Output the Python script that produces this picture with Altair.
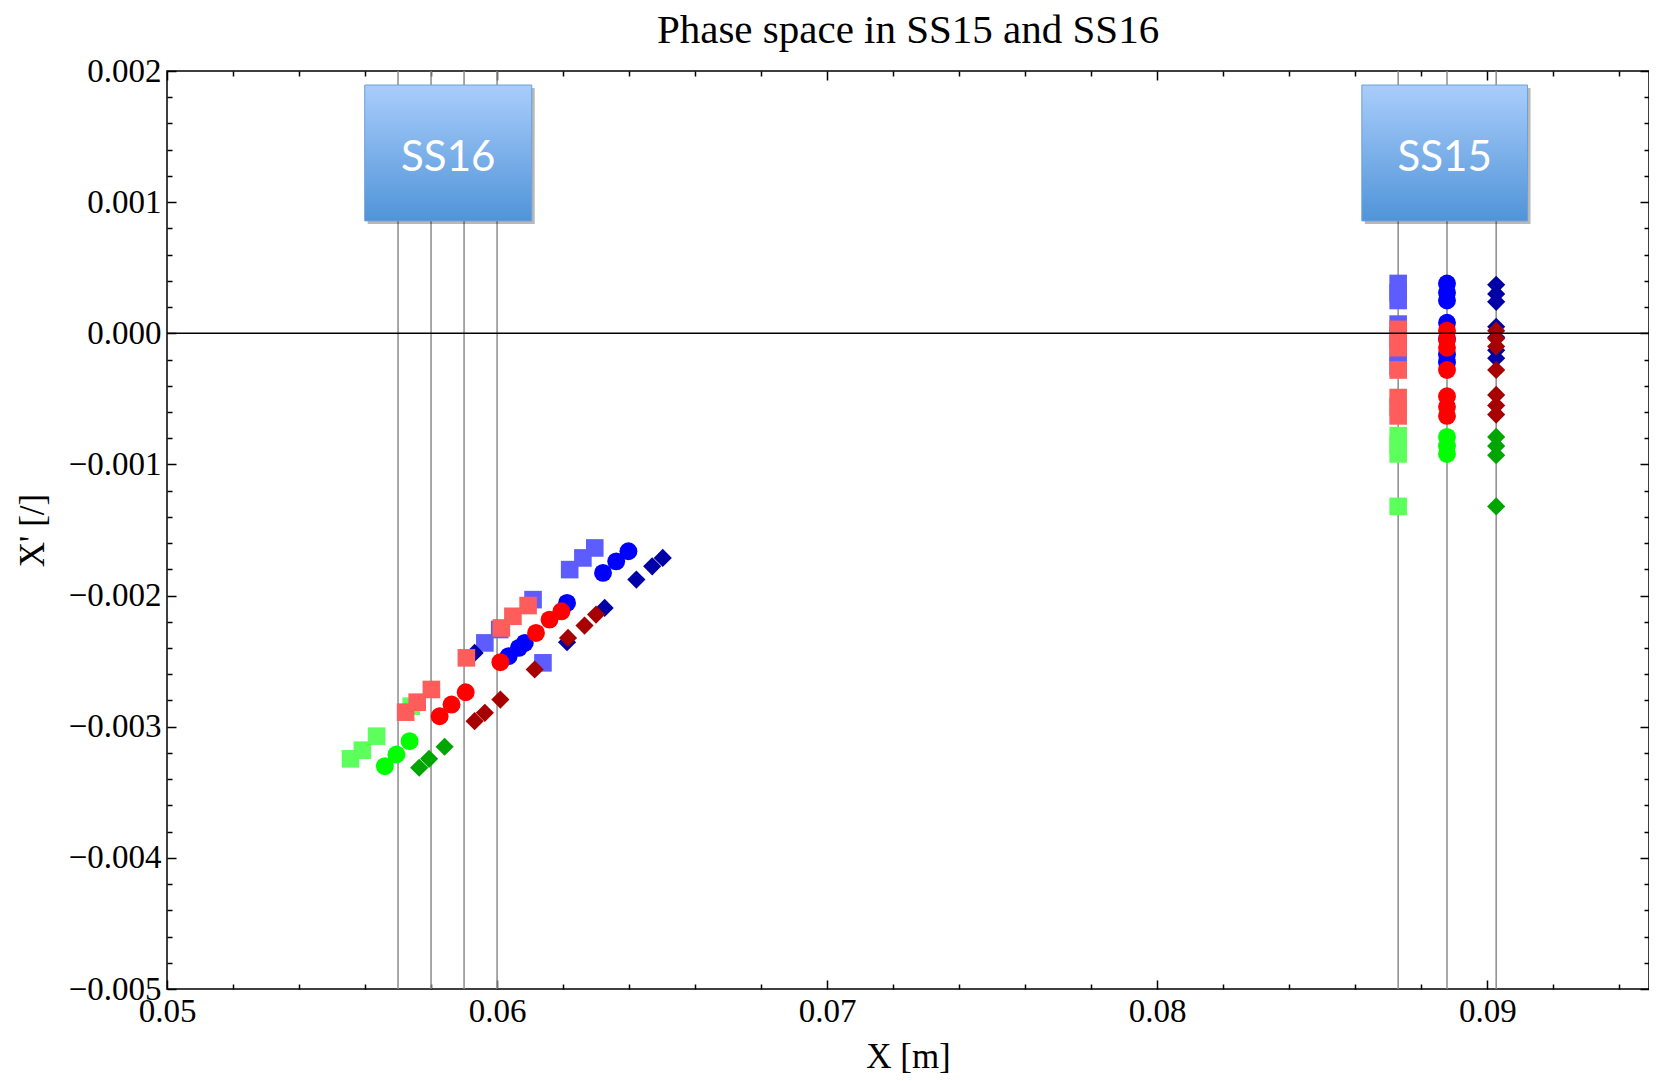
import altair as alt
import pandas as pd

TITLE = "Phase space in SS15 and SS16"
X_TITLE = "X [m]"
Y_TITLE = "X' [/]"

X_DOMAIN = [0.05, 0.0949]
Y_DOMAIN = [-0.005, 0.002]
X_MAJOR = [0.05, 0.06, 0.07, 0.08, 0.09]
X_MINOR = [0.052, 0.054, 0.056, 0.058, 0.062, 0.064, 0.066, 0.068,
           0.072, 0.074, 0.076, 0.078, 0.082, 0.084, 0.086, 0.088,
           0.092, 0.094]
Y_MAJOR = [-0.005, -0.004, -0.003, -0.002, -0.001, 0.0, 0.001, 0.002]
Y_MINOR = [-0.0048, -0.0046, -0.0044, -0.0042, -0.0038, -0.0036, -0.0034,
           -0.0032, -0.0028, -0.0026, -0.0024, -0.0022, -0.0018, -0.0016,
           -0.0014, -0.0012, -0.0008, -0.0006, -0.0004, -0.0002, 0.0002,
           0.0004, 0.0006, 0.0008, 0.0012, 0.0014, 0.0016, 0.0018]
X_ALL = sorted(X_MAJOR + X_MINOR)
Y_ALL = sorted(Y_MAJOR + Y_MINOR)

# element position lines (gray verticals) and the X'=0 reference
VLINES_X = [0.0570, 0.0580, 0.0590, 0.0600, 0.0873, 0.08878, 0.09027]
HLINE_Y = [0.0]

# SS labels (boxes)
BOX_LABELS = ["SS16", "SS15"]
BOX_X0 = [0.05599, 0.08620]
BOX_X1 = [0.06105, 0.09122]
BOX_Y0 = [0.000857, 0.000857]
BOX_Y1 = [0.001893, 0.001893]

SHAPES = ["square", "circle", "diamond"]
SIZES = [310, 330, 340]
# x position at SS15 for each shape
X15 = {"square": 0.08730, "circle": 0.08878, "diamond": 0.09027}

SERIES = ["sq_green", "ci_green", "di_green",
          "sq_blue", "ci_blue", "di_blue",
          "sq_red", "ci_red", "di_red"]
SERIES_SHAPE = ["square", "circle", "diamond"] * 3
SERIES_COLOR = ["#5cff5c", "#00ff00", "#00a600",
                "#5c5cff", "#0000ff", "#0000a6",
                "#ff5c5c", "#ff0000", "#a60000"]

# SS15 X' values per series
Y15 = {
    "sq_green": [-0.00078, -0.00085, -0.00092, -0.00132],
    "ci_green": [-0.00079, -0.00086, -0.00092],
    "di_green": [-0.00079, -0.00086, -0.00093, -0.00132],
    "sq_blue": [0.00038, 0.00031, 0.00025, 0.00007, -0.00002, -0.00015, -0.00025],
    "ci_blue": [0.00038, 0.00031, 0.00025, 0.00008, -0.00004, -0.00016, -0.00022],
    "di_blue": [0.00037, 0.00030, 0.00024, 0.00005, -0.00003, -0.00013, -0.00019],
    "sq_red": [0.00003, -0.00005, -0.00011, -0.00028, -0.00049, -0.00056, -0.00063],
    "ci_red": [0.00002, -0.00005, -0.00011, -0.00028, -0.00048, -0.00056, -0.00063],
    "di_red": [0.00002, -0.00004, -0.00010, -0.00028, -0.00047, -0.00055, -0.00062],
}

# SS16 points (X, X') per series
X16 = {
    "sq_green": [0.05556, 0.05592, 0.05635, 0.05740],
    "ci_green": [0.05660, 0.05695, 0.05735],
    "di_green": [0.05764, 0.05794, 0.05841],
    "sq_blue": [0.06220, 0.06260, 0.06296, 0.06109, 0.06008, 0.05963, 0.06139],
    "ci_blue": [0.06321, 0.06361, 0.06398, 0.06212, 0.06084, 0.06066, 0.06035],
    "di_blue": [0.06422, 0.06470, 0.06502, 0.06326, 0.06212, 0.05932],
    "sq_red": [0.05723, 0.05758, 0.05801, 0.05907, 0.06013, 0.06048, 0.06094],
    "ci_red": [0.05826, 0.05862, 0.05905, 0.06010, 0.06118, 0.06159, 0.06195],
    "di_red": [0.05932, 0.05963, 0.06010, 0.06114, 0.06215, 0.06265, 0.06300],
}
Y16 = {
    "sq_green": [-0.003245, -0.003179, -0.003072, -0.002843],
    "ci_green": [-0.003301, -0.003212, -0.003110],
    "di_green": [-0.003313, -0.003245, -0.003153],
    "sq_blue": [-0.001802, -0.001713, -0.001637, -0.002031, -0.002259, -0.002361, -0.002513],
    "ci_blue": [-0.001827, -0.001739, -0.001662, -0.002056, -0.002361, -0.002399, -0.002462],
    "di_blue": [-0.001878, -0.001777, -0.001713, -0.002094, -0.002356, -0.002437],
    "sq_red": [-0.002889, -0.002813, -0.002716, -0.002475, -0.002247, -0.002158, -0.002076],
    "ci_red": [-0.002920, -0.002831, -0.002737, -0.002508, -0.002285, -0.002183, -0.002120],
    "di_red": [-0.002958, -0.002894, -0.002793, -0.002564, -0.002323, -0.002229, -0.002145],
}

# ---------------------------------------------------------------- tables
rows = []
for s, shp in zip(SERIES, SERIES_SHAPE):
    for yv in Y15[s]:
        rows.append({"series": s, "shape": shp, "x": X15[shp], "y": yv})
    for xv, yv in zip(X16[s], Y16[s]):
        rows.append({"series": s, "shape": shp, "x": xv, "y": yv})
pts = pd.DataFrame(rows)
pts["order"] = range(len(pts))

vl = pd.DataFrame({"x": VLINES_X})
hl = pd.DataFrame({"y": HLINE_Y})
boxes = pd.DataFrame({"label": BOX_LABELS, "x0": BOX_X0, "x1": BOX_X1,
                      "y0": BOX_Y0, "y1": BOX_Y1})
boxes["xm"] = (boxes["x0"] + boxes["x1"]) / 2
boxes["ym"] = (boxes["y0"] + boxes["y1"]) / 2
title_df = pd.DataFrame({"t": [TITLE]})

W, H = 1482, 918
SERIF = "Liberation Serif"
MAJ, MIN = 9, 5

xs = alt.Scale(domain=X_DOMAIN, nice=False, zero=False)
ys = alt.Scale(domain=Y_DOMAIN, nice=False, zero=False)

x_major_test = "abs(datum.value*100 - round(datum.value*100)) < 0.01"
y_major_test = "abs(datum.value*1000 - round(datum.value*1000)) < 0.01"
xtick = {"condition": {"test": x_major_test, "value": MAJ}, "value": MIN}
ytick = {"condition": {"test": y_major_test, "value": MAJ}, "value": MIN}


def tick_axis(orient, offset, values, size):
    return alt.Axis(orient=orient, offset=offset, values=values, labels=False,
                    domain=False, grid=False, ticks=True, tickSize=size,
                    tickColor="black", tickWidth=1.5, title=None)


x_main = alt.Axis(orient="bottom", values=X_MAJOR, format=".2f", ticks=False,
                  tickSize=0, domain=False, grid=False, labelFont=SERIF,
                  labelFontSize=33, labelColor="black", labelPadding=6,
                  labelFlush=False, labelOverlap=False, labelBound=False,
                  title=X_TITLE, titleFont=SERIF, titleFontSize=35,
                  titleFontWeight="normal", titleColor="black", titlePadding=11)
y_main = alt.Axis(orient="left", values=Y_MAJOR, format=".3f", ticks=False,
                  tickSize=0, domain=False, grid=False, labelFont=SERIF,
                  labelFontSize=33, labelColor="black", labelPadding=6,
                  labelFlush=False, labelOverlap=False, labelBound=False,
                  title=Y_TITLE, titleFont=SERIF, titleFontSize=35,
                  titleFontWeight="normal", titleColor="black", titlePadding=18)

# gray element lines; carries the inward major ticks of the bottom edge
vlines = alt.Chart(vl).mark_rule(color="#8c8c8c", strokeWidth=1.5).encode(
    x=alt.X("x:Q", scale=xs, axis=tick_axis("bottom", -MAJ, X_MAJOR, MAJ))
)

points = alt.Chart(pts).mark_point(filled=True, opacity=1, strokeWidth=0).encode(
    x=alt.X("x:Q", scale=xs, axis=x_main),
    y=alt.Y("y:Q", scale=ys, axis=y_main),
    color=alt.Color("series:N", scale=alt.Scale(domain=SERIES, range=SERIES_COLOR), legend=None),
    shape=alt.Shape("shape:N", scale=alt.Scale(domain=SHAPES, range=SHAPES), legend=None),
    size=alt.Size("shape:N", scale=alt.Scale(domain=SHAPES, range=SIZES), legend=None),
    order=alt.Order("order:Q"),
)

# X' = 0 line; carries the inward major ticks of the left edge
hline = alt.Chart(hl).mark_rule(color="black", strokeWidth=1.5).encode(
    y=alt.Y("y:Q", scale=ys, axis=tick_axis("left", -MAJ, Y_MAJOR, MAJ))
)

# box shadows; carry the inward minor ticks of bottom and left edges
shadow = alt.Chart(boxes).mark_rect(color="#000000", opacity=0.28,
                                    xOffset=3, x2Offset=3, yOffset=3, y2Offset=3).encode(
    x=alt.X("x0:Q", scale=xs, axis=tick_axis("bottom", -MIN, X_MINOR, MIN)), x2="x1:Q",
    y=alt.Y("y0:Q", scale=ys, axis=tick_axis("left", -MIN, Y_MINOR, MIN)), y2="y1:Q",
)

grad = alt.Gradient(gradient="linear",
                    stops=[alt.GradientStop(color="#a9cdfb", offset=0),
                           alt.GradientStop(color="#5094d8", offset=1)],
                    x1=0, x2=0, y1=0, y2=1)
# boxes; carry the inward ticks of the top and right edges
rects = alt.Chart(boxes).mark_rect(fill=grad, stroke="#6d9fd8", strokeWidth=1).encode(
    x=alt.X("x0:Q", scale=xs, axis=tick_axis("bottom", -H, X_ALL, xtick)), x2="x1:Q",
    y=alt.Y("y0:Q", scale=ys, axis=tick_axis("left", -W, Y_ALL, ytick)), y2="y1:Q",
)

labels = alt.Chart(boxes).mark_text(font="Lato", fontSize=42, color="white",
                                    align="center", baseline="middle", dy=5).encode(
    x=alt.X("xm:Q", scale=xs, axis=None),
    y=alt.Y("ym:Q", scale=ys, axis=None),
    text="label:N",
)

# chart title, centred over the plot frame
title = alt.Chart(title_df).mark_text(font=SERIF, fontSize=41, color="black",
                                      align="center", baseline="alphabetic").encode(
    x=alt.value(W / 2), y=alt.value(-28), text="t:N",
)

chart = alt.layer(vlines, points, hline, shadow, rects, labels, title).resolve_axis(
    x="independent", y="independent"
).properties(
    width=W, height=H,
    autosize=alt.AutoSizeParams(type="none"),
    padding={"left": 159, "top": 63, "right": 0, "bottom": 90},
    background="white",
).configure_view(stroke="black", strokeWidth=1.5)

chart.save("out.html", embed_options={"renderer": "svg", "actions": False})
